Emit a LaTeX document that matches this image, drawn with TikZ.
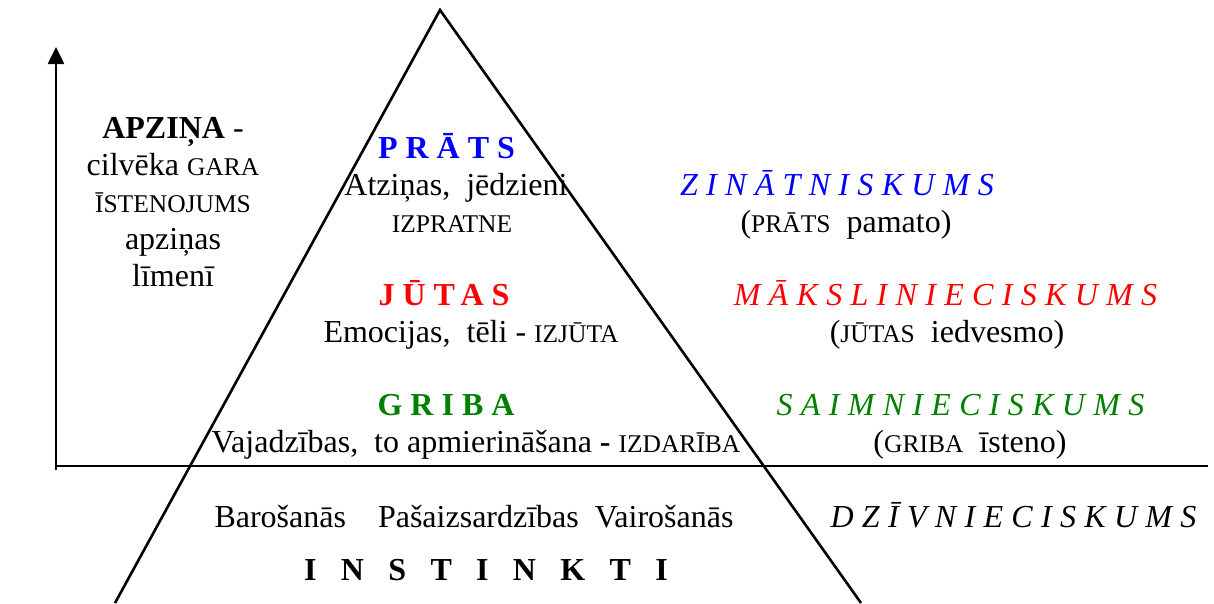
\documentclass[tikz,border=0pt]{standalone}
\usepackage{fontspec}
\setmainfont{Liberation Serif}
\usetikzlibrary{arrows.meta}
\definecolor{cblue}{RGB}{0,0,255}
\definecolor{cred}{RGB}{255,0,0}
\definecolor{cgreen}{RGB}{0,128,0}
\newcommand{\sm}[1]{{\fontsize{25.5}{30}\selectfont #1}}
\begin{document}
\begin{tikzpicture}[x=1pt,y=-1pt,
  txt/.style={inner sep=0pt, anchor=base, font=\fontsize{32}{37}\selectfont},
  head/.style={inner sep=0pt, anchor=base, font=\fontsize{32}{37}\selectfont\bfseries\addfontfeature{LetterSpace=25}},
  side/.style={inner sep=0pt, anchor=base, font=\fontsize{32}{37}\selectfont\itshape\addfontfeature{LetterSpace=26}},
  ln/.style={line width=2.6pt}]
\useasboundingbox (0,0) rectangle (1214,603);
\coordinate (apex) at (440,10);
\coordinate (bl) at (115,603);
\coordinate (br) at (861,603);
\coordinate (ax0) at (56,470);
\coordinate (ax1) at (56,47);
\coordinate (hl) at (56,466);
\coordinate (hr) at (1208,466);
\begin{scope}
\clip (0,0) rectangle (1214,603);
\draw[ln, line join=miter] (bl) -- (apex) -- (br);
\end{scope}
\draw[ln] (hl) -- (hr);
\draw[ln, -{Triangle[width=16pt,length=17pt]}] (ax0) -- (ax1);
% left block
\node[inner sep=0pt, anchor=north, align=center, font=\fontsize{32}{37}\selectfont] (apz) at (173,117)
  {\textbf{APZIŅA} -\\ cilvēka \sm{GARA}\\ \sm{ĪSTENOJUMS}\\ apziņas\\ līmenī};
% pyramid texts
\node[head, text=cblue] (prats) at (446.5,158) {PRĀTS};
\node[txt] (atz) at (456,195) {Atziņas, \ jēdzieni};
\node[txt] (izp) at (452,232) {\sm{IZPRATNE}};
\node[head, text=cred] (jutas) at (444,305) {JŪTAS};
\node[txt] (emo) at (471,342) {Emocijas, \ tēli - \sm{IZJŪTA}};
\node[head, text=cgreen] (griba) at (446,415) {GRIBA};
\node[txt] (vaj) at (476,452) {Vajadzības, \ to apmierināšana \textbf{-} \sm{IZDARĪBA}};
\node[txt] (bar) at (474,527) {Barošanās \ \ \ Pašaizsardzības \ Vairošanās};
\node[inner sep=0pt, anchor=base, font=\fontsize{32}{37}\selectfont\bfseries\addfontfeature{LetterSpace=76}] (inst) at (486,580) {INSTINKTI};
% right column
\node[side, text=cblue] (zin) at (837,195) {ZINĀTNISKUMS};
\node[txt] (zin2) at (846,232) {(\sm{PRĀTS} \ pamato)};
\node[side, text=cred] (mak) at (945.5,305) {MĀKSLINIECISKUMS};
\node[txt] (mak2) at (947,342) {(\sm{JŪTAS} \ iedvesmo)};
\node[side, text=cgreen] (sai) at (960.5,415) {SAIMNIECISKUMS};
\node[txt] (sai2) at (970,452) {(\sm{GRIBA} \ īsteno)};
\node[side] (dzi) at (1013.5,527) {DZĪVNIECISKUMS};
\end{tikzpicture}
\end{document}
